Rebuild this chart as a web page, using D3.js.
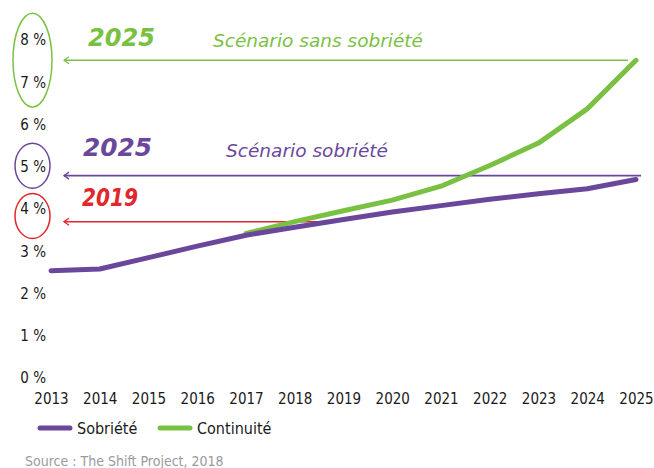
<!DOCTYPE html>
<html>
<head>
<meta charset="utf-8">
<script src="https://cdn.jsdelivr.net/npm/d3@7"></script>
<style>
  body { margin: 0; background: #fff; }
  svg { display: block; }
  .tick text { font-family: "DejaVu Sans Condensed", "DejaVu Sans", sans-serif; font-size: 15px; fill: #1a1a1a; }
  .hand { font-family: "DejaVu Sans Condensed", "DejaVu Sans", sans-serif; font-style: italic; }
</style>
</head>
<body>
<div id="wrapper"></div>
<script>
// 1. Data
const years = [2013, 2014, 2015, 2016, 2017, 2018, 2019, 2020, 2021, 2022, 2023, 2024, 2025]
const sobriete = [2.54, 2.58, 2.85, 3.12, 3.38, 3.57, 3.75, 3.93, 4.08, 4.23, 4.36, 4.48, 4.70]
const continuiteYears = [2017, 2018, 2019, 2020, 2021, 2022, 2023, 2024, 2025]
const continuite = [3.42, 3.70, 3.96, 4.21, 4.54, 5.03, 5.56, 6.37, 7.52]
const yTicks = [0, 1, 2, 3, 4, 5, 6, 7, 8]
const seriesNames = ["Sobriété", "Continuité"]
const annotations = [
  { year: "2025", label: "Scénario sans sobriété", value: 7.52, ticks: [7, 8] },
  { year: "2025", label: "Scénario sobriété", value: 4.79, ticks: [5] },
  { year: "2019", label: "", value: 3.70, ticks: [4] },
]
const sourceText = "Source : The Shift Project, 2018"

const purple = "#6b479c"
const green = "#7ac143"
const red = "#e1262d"

// 2. Dimensions
const width = 654
const height = 468

const svg = d3.select("#wrapper")
  .append("svg")
  .attr("width", width)
  .attr("height", height)

// 3. Scales
const xScale = d3.scalePoint()
  .domain(years)
  .range([51, 636])

const yScale = d3.scaleLinear()
  .domain([0, 8])
  .range([378, 40])

// 4. Axes (labels only)
const yAxis = svg.append("g")
  .attr("transform", "translate(46,0)")
  .call(d3.axisLeft(yScale).tickValues(yTicks).tickSize(0).tickPadding(0).tickFormat(d => d + " %"))
yAxis.select(".domain").remove()

const xAxis = svg.append("g")
  .attr("transform", "translate(0,390)")
  .call(d3.axisBottom(xScale).tickSize(0).tickPadding(3))
xAxis.select(".domain").remove()

// 5. Annotation arrows (behind the lines)
const defs = svg.append("defs")
const arrowColors = [green, purple, red]
arrowColors.forEach((c, i) => {
  defs.append("marker")
    .attr("id", `arrow${i}`)
    .attr("viewBox", "-1 -5 8 10")
    .attr("refX", 0)
    .attr("refY", 0)
    .attr("markerWidth", 8)
    .attr("markerHeight", 10)
    .attr("markerUnits", "userSpaceOnUse")
    .attr("orient", "auto")
    .append("path")
    .attr("d", "M5,-3.5 L0,0 L5,3.5")
    .attr("fill", "none")
    .attr("stroke", c)
    .attr("stroke-width", 1.3)
})

const arrowEnds = [xScale(2025) - 8, xScale(2025) + 5, xScale(2018) + xScale.step() / 2]
annotations.forEach((a, i) => {
  svg.append("line")
    .attr("x1", 64)
    .attr("x2", arrowEnds[i])
    .attr("y1", yScale(a.value))
    .attr("y2", yScale(a.value))
    .attr("stroke", arrowColors[i])
    .attr("stroke-width", 1.6)
    .attr("marker-start", `url(#arrow${i})`)
})

// ellipses round the tick labels
annotations.forEach((a, i) => {
  const top = yScale(d3.max(a.ticks))
  const bottom = yScale(d3.min(a.ticks))
  const multi = a.ticks.length > 1
  svg.append("ellipse")
    .attr("cx", 32.5)
    .attr("cy", (top + bottom) / 2 + (i == 2 ? 7 : -1))
    .attr("rx", multi ? 19.5 : 17.5)
    .attr("ry", multi ? 47 : 22.5)
    .attr("fill", "none")
    .attr("stroke", arrowColors[i])
    .attr("stroke-width", 1.5)
})

// 6. Lines
const line = d3.line()
  .x(d => xScale(d[0]))
  .y(d => yScale(d[1]))

svg.append("path")
  .attr("d", line(continuiteYears.map((y, i) => [y, continuite[i]])))
  .attr("fill", "none")
  .attr("stroke", green)
  .attr("stroke-width", 5)
  .attr("stroke-linecap", "round")
  .attr("stroke-linejoin", "round")

svg.append("path")
  .attr("d", line(years.map((y, i) => [y, sobriete[i]])))
  .attr("fill", "none")
  .attr("stroke", purple)
  .attr("stroke-width", 5)
  .attr("stroke-linecap", "round")
  .attr("stroke-linejoin", "round")

// 7. Annotation texts
const yearTextPos = [[88, 46, 67], [83, 156, 69], [82, 206, 56]]
annotations.forEach((a, i) => {
  svg.append("text")
    .attr("class", "hand")
    .attr("x", yearTextPos[i][0])
    .attr("y", yearTextPos[i][1])
    .attr("textLength", yearTextPos[i][2])
    .attr("lengthAdjust", "spacingAndGlyphs")
    .attr("fill", arrowColors[i])
    .style("font-size", "24px")
    .style("font-weight", "600")
    .text(a.year)
})

const labelPos = [[213, 47, 210], [226, 157, 162]]
labelPos.forEach((p, i) => {
  svg.append("text")
    .attr("class", "hand")
    .attr("x", p[0])
    .attr("y", p[1])
    .attr("textLength", p[2])
    .attr("lengthAdjust", "spacingAndGlyphs")
    .attr("fill", arrowColors[i])
    .style("font-size", "18px")
    .text(annotations[i].label)
})

// 8. Legend
const legend = svg.append("g").attr("transform", "translate(0,428)")
const legendX = [38, 158]
seriesNames.forEach((name, i) => {
  legend.append("line")
    .attr("x1", legendX[i] + 2)
    .attr("x2", legendX[i] + 32)
    .attr("y1", 0)
    .attr("y2", 0)
    .attr("stroke", i == 0 ? purple : green)
    .attr("stroke-width", 5)
    .attr("stroke-linecap", "round")
  legend.append("text")
    .attr("x", legendX[i] + 39)
    .attr("y", 0)
    .attr("dy", "0.35em")
    .attr("fill", "#1a1a1a")
    .style("font-family", "'DejaVu Sans Condensed', 'DejaVu Sans', sans-serif")
    .style("font-size", "16px")
    .text(name)
})

svg.append("text")
  .attr("x", 25)
  .attr("y", 461)
  .attr("dy", "0.35em")
  .attr("fill", "#9a9a9a")
  .style("font-family", "'DejaVu Sans Condensed', 'DejaVu Sans', sans-serif")
  .style("font-size", "14px")
  .text(sourceText)
</script>
</body>
</html>
